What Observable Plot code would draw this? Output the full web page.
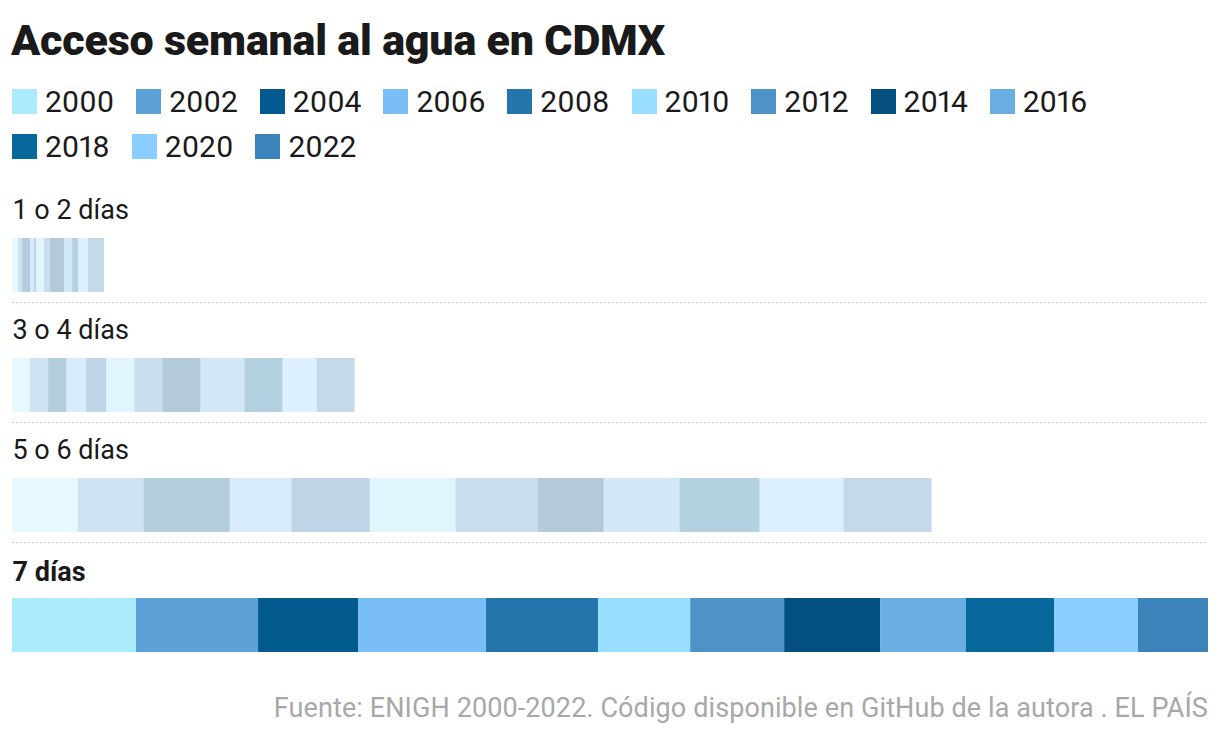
<!DOCTYPE html>
<html>
<head>
<meta charset="utf-8">
<script src="https://cdn.jsdelivr.net/npm/d3@7"></script>
<script src="https://cdn.jsdelivr.net/npm/@observablehq/plot@0.6"></script>
<style>
  html, body { margin: 0; padding: 0; background: #fff; }
  body { width: 1220px; font-family: Roboto, "Noto Sans", sans-serif; color: #1a1a1a; }
  #title { position: absolute; left: 11px; top: 12px; font-size: 43px; font-weight: 900; letter-spacing: -0.2px; margin: 0; line-height: 56px; }
  #legend { position: absolute; left: 12px; top: 86px; width: 1200px; display: flex; flex-wrap: wrap; row-gap: 14px; }
  .item { display: flex; align-items: center; margin-right: 22px; font-size: 30px; height: 31px; font-variant-numeric: proportional-nums; }
  .sw { width: 25px; height: 25px; margin-right: 8px; }
  #chart { position: absolute; left: 0; top: 182px; }
  #caption { position: absolute; right: 12px; top: 692px; font-size: 27px; color: #a8a8a8; letter-spacing: 0.1px; }
</style>
</head>
<body>
<div id="title">Acceso semanal al agua en CDMX</div>
<div id="legend"></div>
<div id="chart"></div>
<div id="caption">Fuente: ENIGH 2000-2022. Código disponible en GitHub de la autora . EL PAÍS</div>
<script>
const years = ["2000","2002","2004","2006","2008","2010","2012","2014","2016","2018","2020","2022"];
const categories = ["1 o 2 días","3 o 4 días","5 o 6 días","7 días"];
const colors = ["#aaecfe","#5ca1d7","#025a8e","#7abef8","#2475ac","#9adeff","#4d93c8","#034f7f","#6aaee4","#06689b","#8acdfe","#3a83bb"];
// percentage of households per year
const dias1a2 = [2.8, 1.9, 3.8, 1.9, 0.9, 3.8, 2.8, 6.6, 3.8, 2.8, 4.7, 7.5];
const dias3a4 = [8.5, 8.5, 8.5, 9.4, 9.4, 13.2, 13.2, 17.9, 20.7, 17.9, 16.0, 17.9];
const dias5a6 = [31.0, 31.0, 40.4, 29.1, 36.7, 40.4, 38.6, 31.0, 35.7, 37.6, 39.5, 41.4];
const dias7 = [58.3, 57.4, 47.0, 60.2, 52.7, 43.3, 44.2, 45.1, 40.4, 41.4, 39.5, 32.9];
const seriesByCat = [dias1a2, dias3a4, dias5a6, dias7];

const data = [];
categories.forEach((c, i) => years.forEach((y, j) => data.push({cat: c, year: y, value: seriesByCat[i][j]})));
const maxTotal = d3.max(seriesByCat, s => d3.sum(s));
const highlight = "7 días";

const plot = Plot.plot({
  width: 1220,
  height: 490,
  marginLeft: 12,
  marginRight: 12,
  marginTop: 56,
  marginBottom: 20,
  x: {domain: [0, maxTotal], axis: null},
  y: {domain: categories, axis: null, paddingInner: 66/120, paddingOuter: 0, align: 0},
  color: {domain: years, range: colors},
  marks: [
    Plot.barX(data, Plot.stackX({x: "value", y: "cat", fill: "year", order: null,
      fillOpacity: d => d.cat === highlight ? 1 : 0.3})),
    Plot.ruleY(categories.slice(0, 3), {y: d => d, dy: 37, stroke: "#bbb", strokeDasharray: "1.5,2.5", strokeWidth: 1.2}),
    Plot.text(categories.filter(c => c !== highlight), {y: d => d, x: 0, dy: -55, text: d => d, textAnchor: "start", fontSize: 27, fill: "#1a1a1a"}),
    Plot.text([highlight], {y: d => d, x: 0, dy: -53, text: d => d, textAnchor: "start", fontSize: 27, fill: "#1a1a1a", fontWeight: "bold"})
  ],
  style: {fontFamily: "Roboto, 'Noto Sans', sans-serif", background: "#fff"}
});
document.getElementById("chart").appendChild(plot);

const cs = plot.scale("color");
const legend = document.getElementById("legend");
years.forEach((y) => {
  const it = document.createElement("div");
  it.className = "item";
  const sw = document.createElement("div");
  sw.className = "sw";
  sw.style.background = cs.apply(y);
  it.appendChild(sw);
  const t = document.createElement("span");
  t.textContent = y;
  it.appendChild(t);
  legend.appendChild(it);
});
</script>
</body>
</html>
